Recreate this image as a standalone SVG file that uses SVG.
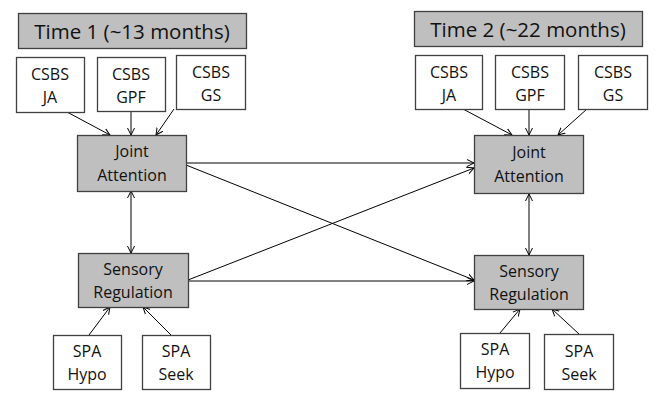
<svg xmlns="http://www.w3.org/2000/svg" width="656" height="399" viewBox="0 0 656 399">
<style>
.t{fill:#bfbfbf;stroke:#404040;stroke-width:1.3}
.g{fill:#bfbfbf;stroke:#404040;stroke-width:1.3}
.w{fill:#fff;stroke:#404040;stroke-width:1.3}
text{font-family:"Open Sans","Liberation Sans",sans-serif;fill:#111;text-anchor:middle}
.tt{font-size:20.5px}
.bt{font-size:16px}
.c line{stroke:#000;stroke-width:1;fill:none}
</style>
<defs>
<marker id="a" markerUnits="userSpaceOnUse" markerWidth="10" markerHeight="10" refX="7" refY="4" orient="auto-start-reverse" viewBox="0 0 10 8">
<path d="M0,0.5 L7,4 L0,7.5" fill="none" stroke="#000" stroke-width="1"/>
</marker>
</defs>
<rect width="656" height="399" fill="#fff"/>
<g class="c">
<line x1="67" y1="112" x2="110" y2="135" marker-end="url(#a)"/>
<line x1="131" y1="111" x2="131" y2="135" marker-end="url(#a)"/>
<line x1="174" y1="109" x2="156" y2="135" marker-end="url(#a)"/>
<line x1="463" y1="109" x2="512" y2="135" marker-end="url(#a)"/>
<line x1="529" y1="109" x2="529" y2="135" marker-end="url(#a)"/>
<line x1="587" y1="109" x2="558" y2="135" marker-end="url(#a)"/>
<line x1="131" y1="191" x2="131" y2="253" marker-start="url(#a)" marker-end="url(#a)"/>
<line x1="529" y1="194" x2="529" y2="255" marker-start="url(#a)" marker-end="url(#a)"/>
<line x1="186" y1="163" x2="474" y2="163" marker-end="url(#a)"/>
<line x1="186" y1="165" x2="474" y2="280" marker-end="url(#a)"/>
<line x1="188" y1="280" x2="474" y2="168" marker-end="url(#a)"/>
<line x1="188" y1="281" x2="474" y2="281" marker-end="url(#a)"/>
<line x1="89" y1="335" x2="110" y2="307" marker-end="url(#a)"/>
<line x1="171" y1="335" x2="143" y2="307" marker-end="url(#a)"/>
<line x1="500" y1="333" x2="520" y2="309" marker-end="url(#a)"/>
<line x1="579" y1="334" x2="552" y2="309" marker-end="url(#a)"/>
</g>
<g id="time1"><rect class="t" x="18.5" y="13.5" width="228" height="35"/><text class="tt" x="132" y="38.5">Time 1 (~13 months)</text></g>
<g id="time2"><rect class="t" x="414.5" y="11.5" width="228" height="35"/><text class="tt" x="528" y="36.5">Time 2 (~22 months)</text></g>
<g id="csbs_ja1"><rect class="w" x="16.5" y="57.5" width="68" height="55"/><text class="bt" x="50" y="80">CSBS</text><text class="bt" x="50" y="103">JA</text></g>
<g id="csbs_gpf1"><rect class="w" x="97.5" y="57.5" width="68" height="54"/><text class="bt" x="131" y="80">CSBS</text><text class="bt" x="131" y="103">GPF</text></g>
<g id="csbs_gs1"><rect class="w" x="176.5" y="55.5" width="69" height="54"/><text class="bt" x="211" y="78">CSBS</text><text class="bt" x="211" y="101">GS</text></g>
<g id="csbs_ja2"><rect class="w" x="415.5" y="55.5" width="67" height="54"/><text class="bt" x="449" y="78">CSBS</text><text class="bt" x="449" y="101">JA</text></g>
<g id="csbs_gpf2"><rect class="w" x="495.5" y="55.5" width="69" height="54"/><text class="bt" x="530" y="78">CSBS</text><text class="bt" x="530" y="101">GPF</text></g>
<g id="csbs_gs2"><rect class="w" x="578.5" y="55.5" width="69" height="54"/><text class="bt" x="613" y="78">CSBS</text><text class="bt" x="613" y="101">GS</text></g>
<g id="ja1"><rect class="g" x="77.5" y="135.5" width="109" height="56"/><text class="bt" x="132" y="157">Joint</text><text class="bt" x="132" y="181">Attention</text></g>
<g id="ja2"><rect class="g" x="474.5" y="135.5" width="109" height="58"/><text class="bt" x="529" y="158">Joint</text><text class="bt" x="529" y="182">Attention</text></g>
<g id="sr1"><rect class="g" x="78.5" y="253.5" width="110" height="54"/><text class="bt" x="133" y="275">Sensory</text><text class="bt" x="133" y="298">Regulation</text></g>
<g id="sr2"><rect class="g" x="474.5" y="255.5" width="109" height="54"/><text class="bt" x="529" y="277">Sensory</text><text class="bt" x="529" y="300">Regulation</text></g>
<g id="spa_hypo1"><rect class="w" x="53.5" y="335.5" width="68" height="54"/><text class="bt" x="87" y="357">SPA</text><text class="bt" x="87" y="380">Hypo</text></g>
<g id="spa_seek1"><rect class="w" x="142.5" y="335.5" width="68" height="54"/><text class="bt" x="176" y="357">SPA</text><text class="bt" x="176" y="380">Seek</text></g>
<g id="spa_hypo2"><rect class="w" x="460.5" y="333.5" width="69" height="55"/><text class="bt" x="495" y="355">SPA</text><text class="bt" x="495" y="378">Hypo</text></g>
<g id="spa_seek2"><rect class="w" x="544.5" y="334.5" width="69" height="55"/><text class="bt" x="579" y="357">SPA</text><text class="bt" x="579" y="380">Seek</text></g>
</svg>
